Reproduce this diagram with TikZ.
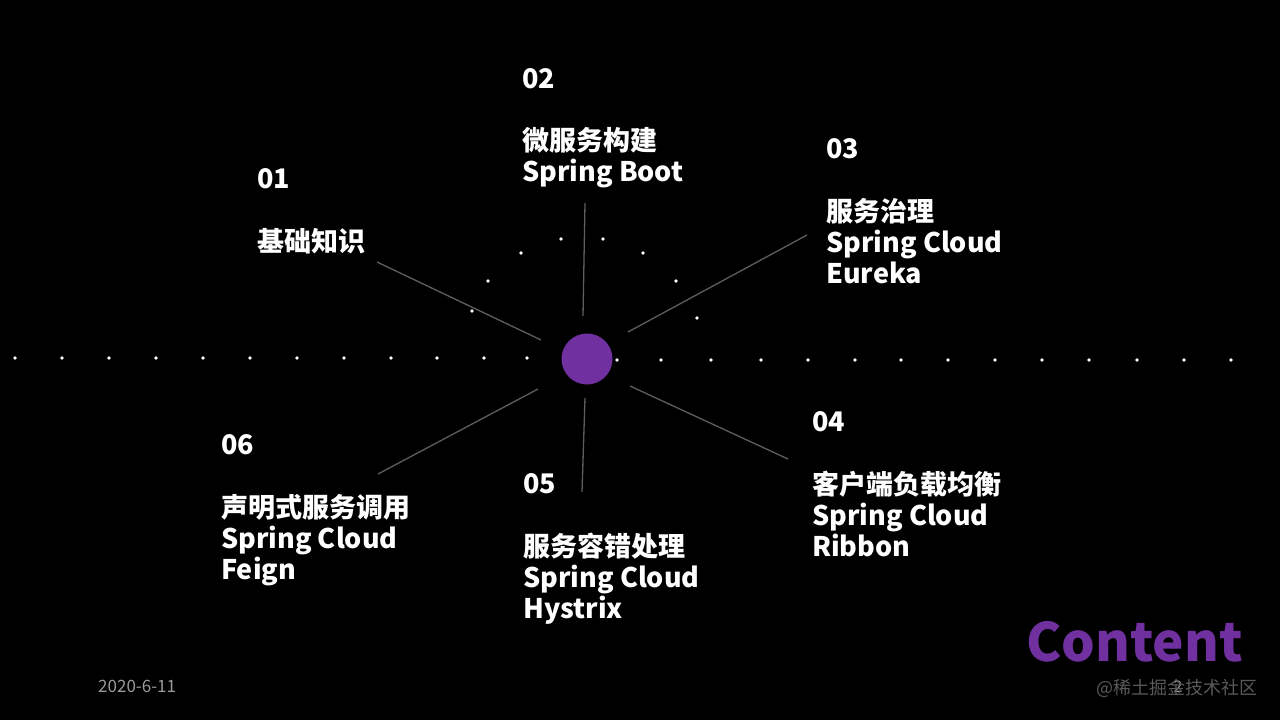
\documentclass[tikz,border=0pt]{standalone}
\usepackage{fontspec}
\setmainfont{Noto Sans CJK SC}
\definecolor{hubpurple}{HTML}{7030A0}
\definecolor{linegray}{HTML}{5E5E5E}
\definecolor{dategray}{HTML}{9A9A9A}
\definecolor{markgray}{HTML}{5A5A5A}
\tikzset{
  dot/.style={circle,fill=white,inner sep=0pt,minimum size=3.6pt},
  spoke/.style={draw=linegray,line width=1.3pt},
  numlabel/.style={anchor=base west,inner sep=0pt,text=white,font=\fontsize{27}{31}\selectfont\bfseries},
  textlabel/.style={anchor=base west,inner sep=0pt,text=white,align=left,font=\fontsize{27}{31}\selectfont\bfseries},
}
\begin{document}
\begin{tikzpicture}[x=1pt,y=-1pt]
\fill[black] (0,0) rectangle (1280,720);
\useasboundingbox (0,0) rectangle (1280,720);

% horizontal dots
\foreach \x in {15,62,109,156,203,250,297,344,391,437,484,527}
  \node[dot] at (\x,358) {};
\foreach \x in {617,661,711,761,808,855,901,948,995,1042,1089,1137,1184,1231}
  \node[dot] at (\x,360) {};
% arc dots
\foreach \p in {(472,311),(488,281),(521,253),(561,239),(603,239),(643,253),(676,281),(697,318)}
  \node[dot] at \p {};

% hub
\node[circle,fill=hubpurple,minimum size=51pt,inner sep=0pt] (hub) at (587,359) {};

% spoke coordinates
\coordinate (s1a) at (541,340); \coordinate (s1b) at (377,262);
\coordinate (s2a) at (583,316); \coordinate (s2b) at (585,203);
\coordinate (s3a) at (628,332); \coordinate (s3b) at (807,235);
\coordinate (s4a) at (630,386); \coordinate (s4b) at (788,459);
\coordinate (s5a) at (585,398); \coordinate (s5b) at (582,492);
\coordinate (s6a) at (538,389); \coordinate (s6b) at (378,474);
\draw[spoke] (s1a) -- (s1b);
\draw[spoke] (s2a) -- (s2b);
\draw[spoke] (s3a) -- (s3b);
\draw[spoke] (s4a) -- (s4b);
\draw[spoke] (s5a) -- (s5b);
\draw[spoke] (s6a) -- (s6b);

% labels (text nodes anchored at the baseline of their last line)
\node[numlabel] (n1) at (257,188) {01};
\node[textlabel] (t1) at (257,251) {基础知识};

\node[numlabel] (n2) at (522,88) {02};
\node[textlabel] (t2) at (522,181) {微服务构建\\Spring Boot};

\node[numlabel] (n3) at (826,158) {03};
\node[textlabel] (t3) at (826,283) {服务治理\\Spring Cloud\\Eureka};

\node[numlabel] (n4) at (812,431) {04};
\node[textlabel] (t4) at (812,556) {客户端负载均衡\\Spring Cloud\\Ribbon};

\node[numlabel] (n5) at (523,493) {05};
\node[textlabel] (t5) at (523,618) {服务容错处理\\Spring Cloud\\Hystrix};

\node[numlabel] (n6) at (221,454) {06};
\node[textlabel] (t6) at (221,579) {声明式服务调用\\Spring Cloud\\Feign};

% title
\node[anchor=base east,inner sep=0pt,text=hubpurple,font=\fontsize{53}{58}\selectfont\bfseries] (title) at (1243,661) {Content};

% footer
\node[anchor=base west,inner sep=0pt,text=dategray,font=\fontsize{17}{20}\selectfont] (date) at (98,692) {2020-6-11};
\node[anchor=base,inner sep=0pt,text=dategray,font=\fontsize{16}{18}\selectfont] (page) at (1178,692) {2};
\node[anchor=base east,inner sep=0pt,text=markgray,font=\fontsize{18}{20}\selectfont] (mark) at (1258,694) {@稀土掘金技术社区};
\end{tikzpicture}
\end{document}
